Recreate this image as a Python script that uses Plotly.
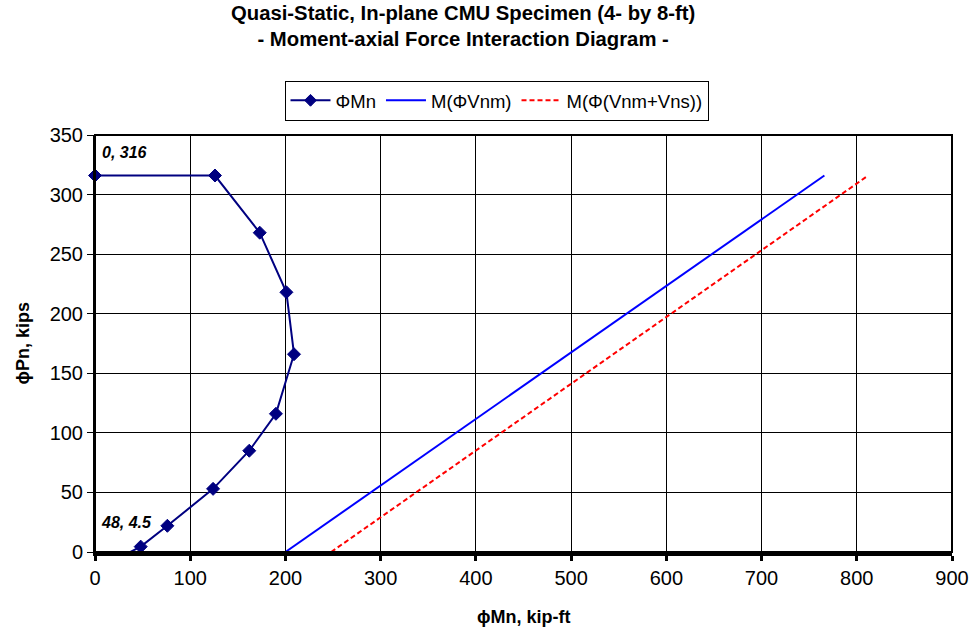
import plotly.graph_objects as go

# Interaction diagram (phi Mn vs phi Pn)
mn_kipft = [0, 126, 173, 201, 209, 190, 162, 124, 76, 48, 20]
pn_kips = [316, 316, 268, 218, 166, 116, 85, 53, 22, 4.5, -7]

# Shear-limited moment lines
vnm_m = [200, 766]
vnm_p = [0, 316]
vns_m = [248, 812]
vns_p = [0, 316]

x_ticks = [0, 100, 200, 300, 400, 500, 600, 700, 800, 900]
y_ticks = [0, 50, 100, 150, 200, 250, 300, 350]

FONT = "Liberation Sans, Arial, sans-serif"

fig = go.Figure()
fig.add_trace(go.Scatter(
    x=mn_kipft, y=pn_kips, mode="lines+markers", name="ΦMn",
    line=dict(color="#000080", width=2),
    marker=dict(symbol="diamond", size=[10] * 10 + [0], color="#000080", opacity=1,
                line=dict(color="#000080", width=1)),
    cliponaxis=False,
))
fig.add_trace(go.Scatter(
    x=vnm_m, y=vnm_p, mode="lines", name="M(ΦVnm)",
    line=dict(color="#0000FF", width=2),
))
fig.add_trace(go.Scatter(
    x=vns_m, y=vns_p, mode="lines", name="M(Φ(Vnm+Vns))",
    line=dict(color="#FF0000", width=2, dash="5px,3px"),
))

fig.update_layout(
    width=972, height=631,
    margin=dict(l=95, r=20, t=135, b=79),
    paper_bgcolor="white", plot_bgcolor="white",
    font=dict(family=FONT, color="black"),
    showlegend=True,
    legend=dict(
        orientation="h", x=0.4685, y=1.13, xanchor="center", yanchor="top",
        bordercolor="black", borderwidth=1, font=dict(size=18.5),
        itemwidth=40, tracegroupgap=0,
    ),
    xaxis=dict(
        range=[0, 900], tickvals=x_ticks, showgrid=True, gridcolor="black", gridwidth=1,
        showline=True, linecolor="black", linewidth=4, ticks="outside", ticklen=5,
        tickwidth=3, tickcolor="black", tickfont=dict(size=20), zeroline=False,
        automargin=False,
    ),
    yaxis=dict(
        range=[0, 350], tickvals=y_ticks, showgrid=True, gridcolor="black", gridwidth=1,
        showline=True, linecolor="black", linewidth=2, ticks="outside", ticklen=6,
        tickwidth=1, tickcolor="black", tickfont=dict(size=20), zeroline=False,
        automargin=False,
    ),
    shapes=[dict(type="rect", xref="paper", yref="paper", x0=0, x1=1, y0=0, y1=1,
                 line=dict(color="black", width=2), layer="above")],
    annotations=[
        dict(text="<b>Quasi-Static, In-plane CMU Specimen (4- by 8-ft)<br>- Moment-axial Force Interaction Diagram -</b>",
             xref="paper", yref="paper", x=0.4294, y=1.0, yshift=109, xanchor="center", yanchor="middle",
             showarrow=False, font=dict(size=20.3)),
        dict(text="<b>ϕMn, kip-ft</b>", xref="paper", yref="paper", x=0.5, y=0,
             yshift=-65, xanchor="center", yanchor="middle", showarrow=False, font=dict(size=18)),
        dict(text="<b>ϕPn, kips</b>", xref="paper", yref="paper", x=0, xshift=-73, y=0.5,
             xanchor="center", yanchor="middle", textangle=-90, showarrow=False, font=dict(size=18)),
        dict(text="<b><i>0, 316</i></b>", x=mn_kipft[0], y=pn_kips[0], xanchor="left", yanchor="middle",
             xshift=5, yshift=23, showarrow=False, font=dict(size=16)),
        dict(text="<b><i>48, 4.5</i></b>", x=mn_kipft[9], y=pn_kips[9], xanchor="center", yanchor="middle",
             xshift=-14, yshift=24, showarrow=False, font=dict(size=16)),
    ],
)

fig.write_html("out.html", config={"displayModeBar": False},
               post_script="document.body.style.margin='0';document.body.style.overflow='hidden';")
